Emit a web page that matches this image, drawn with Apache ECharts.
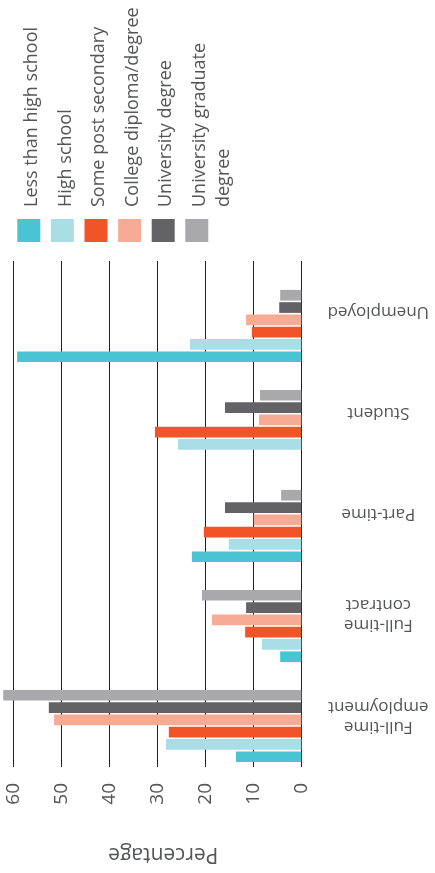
<!DOCTYPE html>
<html><head><meta charset="utf-8">
<script src="https://cdn.jsdelivr.net/npm/echarts@6/dist/echarts.min.js"></script>
<style>html,body{margin:0;padding:0;background:#fff}#c{width:435px;height:873px}</style>
</head><body><div id="c"></div>
<script>
// Categories, bottom to top
const categories = ['Full-time\nemployment', 'Full-time\ncontract', 'Part-time', 'Student', 'Unemployed'];
const seriesNames = ['Less than high school', 'High school', 'Some post secondary', 'College diploma/degree', 'University degree', 'University graduate degree'];
const legendLabels = ['Less than high school', 'High school', 'Some post secondary', 'College diploma/degree', 'University degree', 'University graduate\ndegree'];
const colors = ['#4ac4d2', '#aadee6', '#f15527', '#f7ab94', '#636365', '#a9a9ac'];

const lessThanHighSchool = [13.6, 4.4, 22.8, 0, 59.2];
const highSchool = [28.2, 8.2, 15.1, 25.7, 23.2];
const somePostSecondary = [27.6, 11.7, 20.3, 30.5, 10.3];
const collegeDiploma = [51.5, 18.6, 9.9, 8.8, 11.5];
const universityDegree = [52.6, 11.5, 15.9, 15.9, 4.6];
const universityGraduate = [62.1, 20.7, 4.2, 8.6, 4.4];
const seriesData = [lessThanHighSchool, highSchool, somePostSecondary, collegeDiploma, universityDegree, universityGraduate];

const valueMin = 0, valueMax = 60, valueStep = 10;
const axisTitle = 'Percentage';

const FONT = '"Open Sans", sans-serif';
const TEXT = '#545557';

const chart = echarts.init(document.getElementById('c'), null, {renderer: 'canvas'});

const legendGraphics = legendLabels.map((name, i) => ({
  type: 'group',
  children: [
    {type: 'rect', shape: {x: 17.3 + i * 33.6, y: 219, width: 23, height: 23}, style: {fill: colors[i]}},
    {type: 'text', x: 17.3 + i * 33.6 + 11.5 + 3 - 12, y: 207, rotation: Math.PI / 2,
      style: {text: name, fontSize: 18, fontFamily: FONT, fill: TEXT,
        align: 'left', verticalAlign: 'top', textAlign: 'left', textVerticalAlign: 'top', lineHeight: 24}}
  ]
}));

// ECharts stacks horizontal bar series top-to-bottom, so add them in reverse
// order to put the first series at the bottom of each group.
const seriesList = seriesNames.map((n, i) => ({
  type: 'bar', name: n, xAxisIndex: 1, yAxisIndex: 1, data: seriesData[i],
  barWidth: 10.7, barGap: '15%', clip: false,
  itemStyle: {color: colors[i]}
})).reverse();

const option = {
  animation: false,
  backgroundColor: '#fff',
  textStyle: {fontFamily: FONT},
  grid: [
    {left: 13.3, right: 435 - 301.3, top: 261, bottom: 873 - 767},
    {left: 13.3, right: 435 - 301.3, top: 276, bottom: 873 - 776}
  ],
  xAxis: [
    {gridIndex: 0, type: 'value', min: valueMin, max: valueMax, interval: valueStep, inverse: true,
      axisLine: {show: false}, axisTick: {show: false},
      splitLine: {show: true, lineStyle: {color: '#231f20', width: 1}},
      axisLabel: {rotate: 90, margin: 16, fontSize: 19, color: TEXT, fontFamily: FONT, padding: [16, 0, 0, 0]},
      name: axisTitle, nameLocation: 'middle', nameRotate: 180, nameGap: 76,
      nameTextStyle: {fontSize: 21, color: TEXT, fontFamily: FONT, padding: [0, 12, 0, 0]}},
    {gridIndex: 1, type: 'value', min: valueMin, max: valueMax, interval: valueStep, inverse: true, show: false}
  ],
  yAxis: [
    {gridIndex: 0, type: 'category', data: categories, position: 'right',
      axisLine: {show: false}, axisTick: {show: false}, splitLine: {show: false},
      axisLabel: {interval: 0, rotate: 180, align: 'center', verticalAlign: 'middle', margin: 77, fontSize: 17, lineHeight: 20, color: TEXT, fontFamily: FONT}},
    {gridIndex: 1, type: 'category', data: categories, show: false}
  ],
  graphic: legendGraphics,
  series: seriesList
};
chart.setOption(option);
</script>
</body></html>
